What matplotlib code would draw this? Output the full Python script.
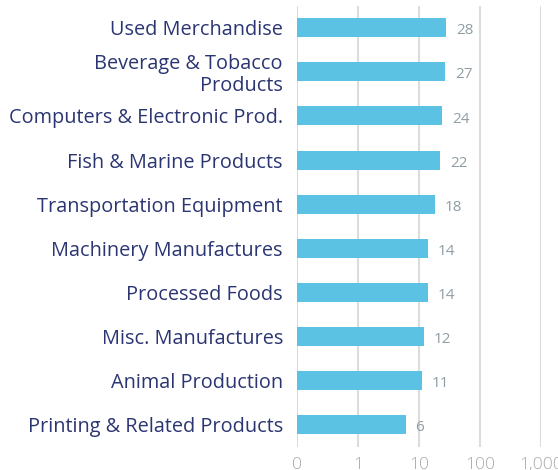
import matplotlib.pyplot as plt
import numpy as np

# categories from top to bottom and their values
categories = ['Used Merchandise', 'Beverage & Tobacco\nProducts',
              'Computers & Electronic Prod.', 'Fish & Marine Products',
              'Transportation Equipment', 'Machinery Manufactures',
              'Processed Foods', 'Misc. Manufactures', 'Animal Production',
              'Printing & Related Products']
values = [28, 27, 24, 22, 18, 14, 14, 12, 11, 6]
tick_values = [0.1, 1, 10, 100, 1000]
tick_labels = ['0', '1', '10', '100', '1,000']

plt.rcParams['font.family'] = ['Open Sans', 'DejaVu Sans']

fig = plt.figure(figsize=(5.58, 4.70), dpi=100)
ax = fig.add_axes([0.532, 0.049, 0.438, 0.939])

y = np.arange(len(categories))
ax.barh(y, np.array(values) - 0.1, left=0.1, height=0.43, color='#5bc2e4', zorder=3)

#value labels to the right of the bars
for yi, v in zip(y, values):
    ax.text(v * 1.45, yi + 0.07, str(v), va='center', ha='left',
            fontsize=11, color='#8f9ea4')

ax.set_xscale('log')
ax.set_xlim(0.1, 1000)
ax.set_ylim(len(categories) - 0.5, -0.5)
ax.set_xticks(tick_values)
ax.set_xticklabels(tick_labels)
ax.minorticks_off()
ax.set_yticks(y)
ax.set_yticklabels(categories, fontsize=14.3, color='#2b3572', linespacing=1.1)
ax.tick_params(axis='y', length=0, pad=10)
ax.tick_params(axis='x', length=0, pad=7, labelsize=12.5, labelcolor='#a8a8a8')
for lbl in ax.get_xticklabels():
    lbl.set_fontweight('light')
ax.grid(axis='x', color='#dcdcdc', linewidth=1.5, zorder=0)
for s in ax.spines.values():
    s.set_visible(False)

fig.savefig('out.png', dpi=100)
